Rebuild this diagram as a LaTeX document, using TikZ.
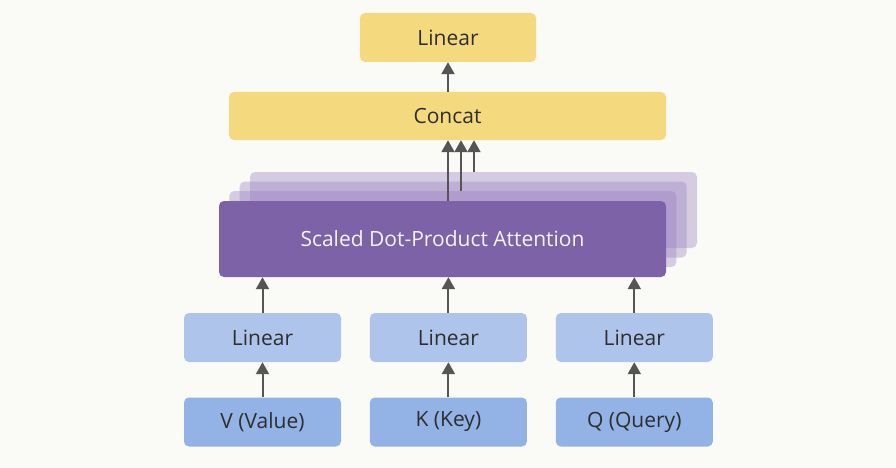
\documentclass[tikz,border=0pt]{standalone}
\usepackage{fontspec}
\setmainfont{Open Sans}
\usetikzlibrary{arrows.meta,positioning}
\definecolor{paper}{HTML}{FAFAF7}
\definecolor{sand}{HTML}{F5D97F}
\definecolor{sky}{HTML}{AFC4EA}
\definecolor{ocean}{HTML}{93B2E6}
\definecolor{violet}{HTML}{7E62A8}
\definecolor{haze}{HTML}{9A82C2}
\definecolor{ink}{HTML}{2E2E2E}
\definecolor{wire}{HTML}{555555}
\tikzset{
    base-box/.style = {rectangle, rounded corners=5pt, inner sep=0pt, text=ink, font=\fontsize{21}{25}\selectfont},
    yellow-box/.style = {base-box, fill=sand},
    linear-box/.style = {base-box, fill=sky, minimum width=157pt, minimum height=49pt},
    input-box/.style = {base-box, fill=ocean, minimum width=157pt, minimum height=49pt},
    head-box/.style = {base-box, minimum width=447pt, minimum height=76pt},
    up-arrow/.style = {draw=wire, line width=2pt, -{Triangle[width=13pt,length=12pt]}},
}
\begin{document}
\begin{tikzpicture}[x=1pt, y=-1pt]
\fill[paper] (0,0) rectangle (896,468);
% stacked attention heads, back to front
\node[head-box, fill=haze, fill opacity=0.38] (head4) at (473.5,210) {};
\node[head-box, fill=haze, fill opacity=0.38] (head3) at (463.2,219.5) {};
\node[head-box, fill=haze, fill opacity=0.38] (head2) at (452.8,229) {};
\node[head-box, fill=violet, text=white!92!violet] (head1) at (442.5,239) {Scaled Dot-Product Attention};

\node[yellow-box, minimum width=437pt, minimum height=48pt] (concat) at (447.5,116) {Concat};
\node[yellow-box, minimum width=176pt, minimum height=49pt] (out) at (448,37.5) {Linear};

\node[linear-box] (linv) at (262.5,337.5) {Linear};
\node[linear-box, right=28.5pt of linv] (link) {Linear};
\node[linear-box, right=28.5pt of link] (linq) {Linear};

\node[input-box] (v) at (262.5,422) {V (Value)};
\node[input-box, right=28.5pt of v] (k) {K (Key)};
\node[input-box, right=28.5pt of k] (q) {Q (Query)};

% projections
\foreach \a/\b in {v/linv, k/link, q/linq}
    \draw[up-arrow] (\a.north) -- (\b.south);
\draw[up-arrow] (linv.north) -- (linv.north |- head1.south);
\draw[up-arrow] (link.north) -- (link.north |- head1.south);
\draw[up-arrow] (linq.north) -- (linq.north |- head1.south);

% heads into concat
\draw[up-arrow] ([xshift=5.5pt]head1.north) -- ([xshift=5.5pt]head1.north |- concat.south);
\draw[up-arrow] ([xshift=8.2pt]head2.north) -- ([xshift=8.2pt]head2.north |- concat.south);
\draw[up-arrow] ([xshift=0.5pt]head4.north) -- ([xshift=0.5pt]head4.north |- concat.south);
\draw[up-arrow] (concat.north -| out.south) -- (out.south);
\end{tikzpicture}
\end{document}
